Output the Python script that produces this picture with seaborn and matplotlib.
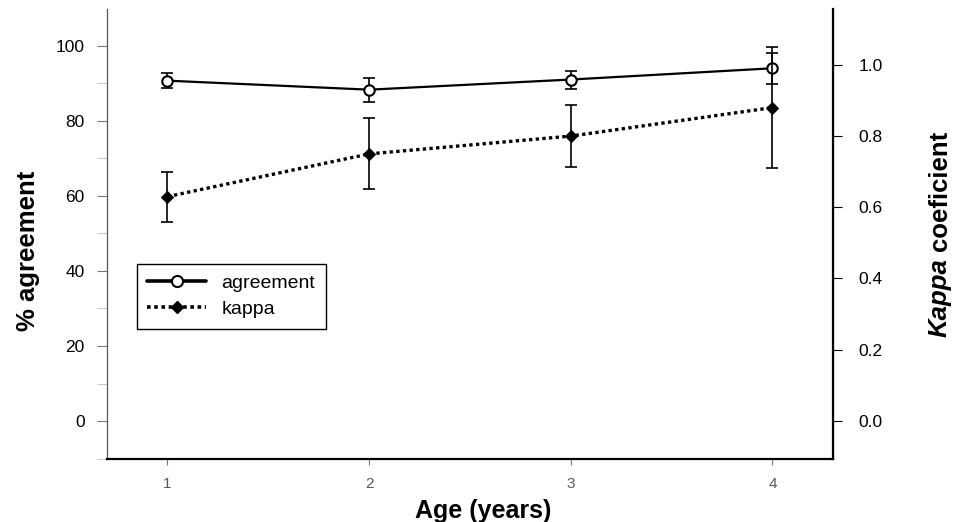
import pandas as pd
import matplotlib
matplotlib.use('Agg')
import matplotlib.pyplot as plt
from matplotlib.lines import Line2D
from matplotlib.ticker import MultipleLocator
import seaborn as sns

# Data
ages = [1, 2, 3, 4]
agreement = [90.7, 88.3, 91.0, 94.0]
agreement_err = [2.0, 3.2, 2.4, 4.2]
kappa = [0.63, 0.75, 0.80, 0.88]
kappa_err = [0.07, 0.10, 0.088, 0.17]

df = pd.DataFrame({'age': ages, 'agreement': agreement, 'kappa': kappa})

sns.set_style('ticks')
plt.rcParams['font.family'] = ['Liberation Sans', 'DejaVu Sans']
plt.rcParams['text.color'] = 'black'
tick_size = 12.5
label_size = 18.5

fig = plt.figure(figsize=(9.56, 5.22), dpi=100)
ax = fig.add_axes([0.1119, 0.1207, 0.7594, 0.8621])
ax2 = ax.twinx()

# agreement on the left axis
ax.errorbar(df['age'], df['agreement'], yerr=agreement_err, fmt='none',
            ecolor='black', elinewidth=1.2, capsize=4, capthick=1.2, zorder=2)
sns.lineplot(data=df, x='age', y='agreement', ax=ax, color='black', lw=1.6,
             marker='o', markersize=7.5, markerfacecolor='white',
             markeredgecolor='black', markeredgewidth=1.5, zorder=3)

# kappa on the right axis
ax2.errorbar(df['age'], df['kappa'], yerr=kappa_err, fmt='none',
             ecolor='black', elinewidth=1.2, capsize=4, capthick=1.2, zorder=2)
sns.lineplot(data=df, x='age', y='kappa', ax=ax2, color='black', lw=2.4,
             linestyle=(0, (1, 1)), marker='D', markersize=6.5,
             markerfacecolor='black', markeredgecolor='black', zorder=3)

ax.set_xlim(0.7, 4.3)
ax.set_ylim(-10.1, 109.8)
ax2.set_ylim(-0.107, 1.157)

ax.set_xticks(ages)
ax.set_yticks([0, 20, 40, 60, 80, 100])
ax.yaxis.set_minor_locator(MultipleLocator(10))
ax2.set_yticks([0.0, 0.2, 0.4, 0.6, 0.8, 1.0])
ax2.set_yticklabels(['0.0', '0.2', '0.4', '0.6', '0.8', '1.0'])

# spines
for a in (ax, ax2):
    a.spines['top'].set_visible(False)
ax.spines['left'].set_color('#555555')
ax.spines['left'].set_linewidth(0.9)
ax.spines['bottom'].set_linewidth(1.6)
ax.spines['bottom'].set_color('black')
ax2.spines['right'].set_linewidth(1.6)
ax2.spines['right'].set_color('black')
ax2.spines['left'].set_visible(False)
ax2.spines['bottom'].set_visible(False)

ax.tick_params(axis='y', which='major', length=7, width=0.8, color='#777777',
               pad=9, labelsize=tick_size, labelcolor='black')
ax.tick_params(axis='y', which='minor', length=7, width=0.6, color='#bbbbbb')
ax.tick_params(axis='x', length=4, width=0.8, color='#777777', pad=9,
               labelsize=11, labelcolor='#555555')
ax2.tick_params(axis='y', length=6.5, width=0.8, color='black', pad=12,
                labelsize=tick_size, labelcolor='black')

ax.set_xlabel('Age (years)', fontsize=18, fontweight='bold', color='black')
ax.xaxis.set_label_coords(0.518, -0.09)
ax.set_ylabel('')
ax2.set_ylabel('')

fig.text(28 / 956, 1 - 251 / 522, '% agreement', rotation=90, ha='center',
         va='center', fontsize=label_size, fontweight='bold')

# right label: "Kappa" in bold italic, "coeficient" in bold
renderer = fig.canvas.get_renderer()
t1 = fig.text(940 / 956, 1 - 337 / 522, 'Kappa', rotation=90, ha='center',
              va='bottom', fontsize=label_size, fontweight='bold',
              fontstyle='italic')
bb = t1.get_window_extent(renderer)
gap = label_size * 0.28 * 100 / 72
fig.text(940 / 956, (bb.y1 + gap) / (5.22 * 100), 'coeficient', rotation=90,
         ha='center', va='bottom', fontsize=label_size, fontweight='bold')

handles = [
    Line2D([], [], color='black', lw=2.6, marker='o', markersize=8,
           markerfacecolor='white', markeredgewidth=1.5),
    Line2D([], [], color='black', lw=2.6, linestyle=(0, (1, 1)), marker='D',
           markersize=6.5),
]
leg = ax.legend(handles, ['agreement', 'kappa'], loc='lower left',
                bbox_to_anchor=(0.041, 0.289), fontsize=14, frameon=True,
                fancybox=False, edgecolor='black', framealpha=1,
                handlelength=3.0, handletextpad=0.8, borderpad=0.55,
                borderaxespad=0, labelspacing=0.45)
leg.get_frame().set_linewidth(1.0)
for txt in leg.get_texts():
    txt.set_color('black')

fig.savefig('out.png', dpi=100)
